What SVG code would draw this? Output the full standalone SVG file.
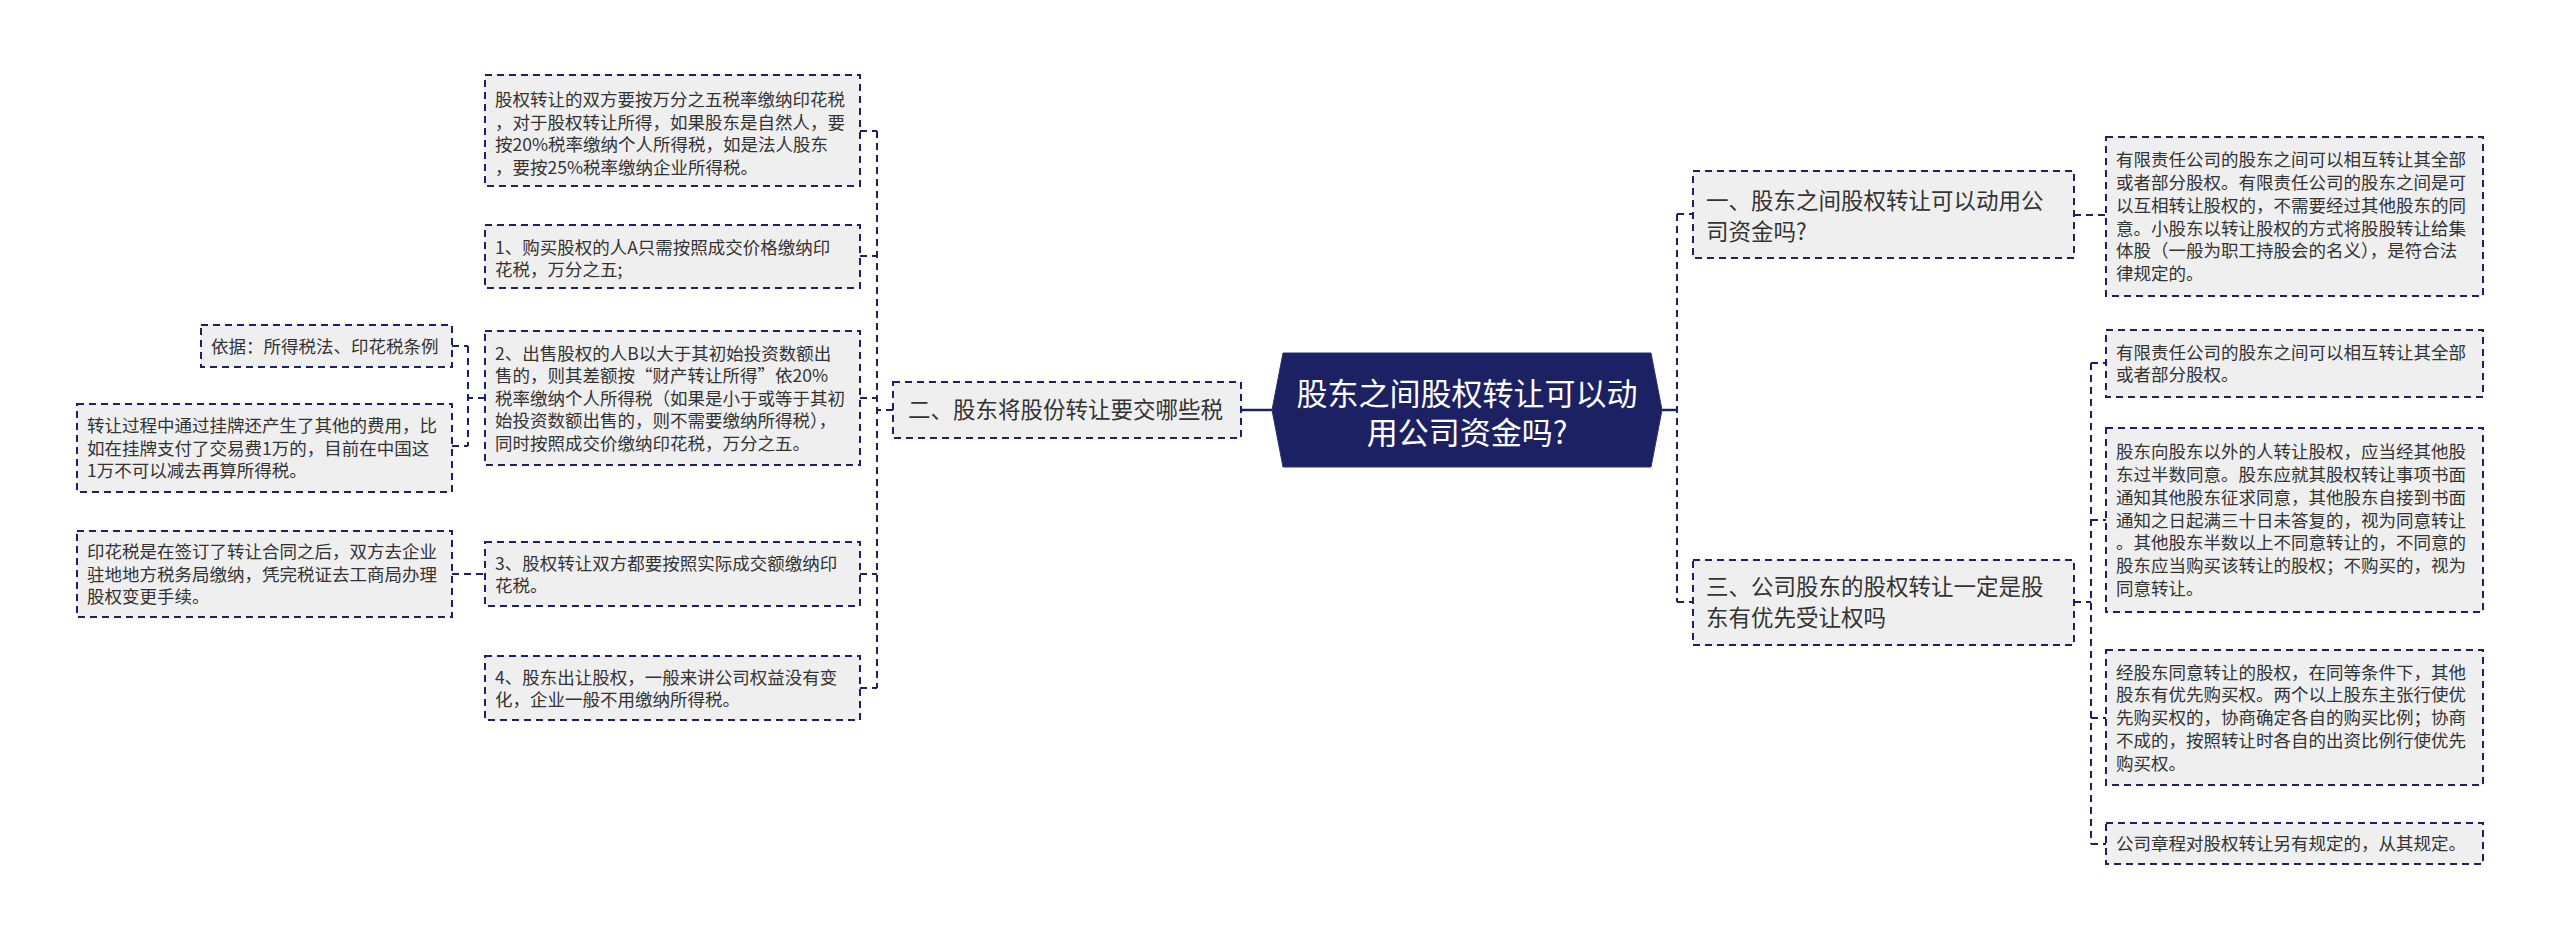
<svg xmlns="http://www.w3.org/2000/svg" width="2560" height="941" viewBox="0 0 2560 941">
<style>
.box{fill:#efefef;stroke:#1c2163;stroke-width:2;stroke-dasharray:7 5;}
.con{fill:none;stroke:#1c2163;stroke-width:2;stroke-dasharray:7 5;}
.solid{fill:none;stroke:#1c2163;stroke-width:2.5;}
.leaf{font-family:"Noto Sans CJK SC","Noto Sans",sans-serif;font-size:17.5px;fill:#333333;}
.br{font-family:"Noto Sans CJK SC","Noto Sans",sans-serif;font-size:22.5px;fill:#333333;}
.ctr{font-family:"Noto Sans CJK SC","Noto Sans",sans-serif;font-size:31px;fill:#ffffff;text-anchor:middle;}
</style>
<rect width="2560" height="941" fill="#ffffff"/>
<g id="connectors">
  <path class="solid" d="M1241,410 H1272"/>
  <path class="solid" d="M1662,410 H1677"/>
  <path class="con" d="M893,410 H877"/>
  <path class="con" d="M877,131 V688"/>
  <path class="con" d="M860,131 H877 M860,256 H877 M860,398 H877 M860,574 H877 M860,688 H877"/>
  <path class="con" d="M485,398 H468 M468,346 V446 M452,346 H468 M452,446 H468"/>
  <path class="con" d="M452,574 H485"/>
  <path class="con" d="M1677,214 V602 M1677,214 H1693 M1677,602 H1693"/>
  <path class="con" d="M2074,215 H2106"/>
  <path class="con" d="M2074,602 H2091 M2091,363 V844 M2091,363 H2106 M2091,520 H2106 M2091,718 H2106 M2091,844 H2106"/>
</g>
<g id="center">
  <polygon points="1272,410 1283,353 1651,353 1662,410 1651,467 1283,467" fill="#1c2163" stroke="#2a3173" stroke-width="1"/>
  <text class="ctr" x="1467" y="405">股东之间股权转让可以动</text>
  <text class="ctr" x="1467" y="444">用公司资金吗?</text>
</g>
<g id="b2">
  <rect class="box" x="893" y="382" width="348" height="56"/>
  <text class="br" x="908" y="418">二、股东将股份转让要交哪些税</text>
</g>
<g id="l1">
  <rect class="box" x="485" y="75" width="375" height="111"/>
  <text class="leaf" x="495" y="106">股权转让的双方要按万分之五税率缴纳印花税</text>
  <text class="leaf" x="495" y="128.5">，对于股权转让所得，如果股东是自然人，要</text>
  <text class="leaf" x="495" y="151">按20%税率缴纳个人所得税，如是法人股东</text>
  <text class="leaf" x="495" y="173.5">，要按25%税率缴纳企业所得税。</text>
</g>
<g id="l2">
  <rect class="box" x="485" y="225" width="375" height="63"/>
  <text class="leaf" x="495" y="253.5">1、购买股权的人A只需按照成交价格缴纳印</text>
  <text class="leaf" x="495" y="276">花税，万分之五;</text>
</g>
<g id="l3">
  <rect class="box" x="485" y="331" width="375" height="134"/>
  <text class="leaf" x="495" y="359.5">2、出售股权的人B以大于其初始投资数额出</text>
  <text class="leaf" x="495" y="382">售的，则其差额按“财产转让所得”依20%</text>
  <text class="leaf" x="495" y="404.5">税率缴纳个人所得税（如果是小于或等于其初</text>
  <text class="leaf" x="495" y="427">始投资数额出售的，则不需要缴纳所得税），</text>
  <text class="leaf" x="495" y="449.5">同时按照成交价缴纳印花税，万分之五。</text>
</g>
<g id="l4">
  <rect class="box" x="485" y="542" width="375" height="64"/>
  <text class="leaf" x="495" y="569.5">3、股权转让双方都要按照实际成交额缴纳印</text>
  <text class="leaf" x="495" y="592">花税。</text>
</g>
<g id="l5">
  <rect class="box" x="485" y="656" width="375" height="64"/>
  <text class="leaf" x="495" y="683.5">4、股东出让股权，一般来讲公司权益没有变</text>
  <text class="leaf" x="495" y="706">化，企业一般不用缴纳所得税。</text>
</g>
<g id="f1">
  <rect class="box" x="201" y="325" width="251" height="42"/>
  <text class="leaf" x="211" y="352.5">依据：所得税法、印花税条例</text>
</g>
<g id="f2">
  <rect class="box" x="77" y="404" width="375" height="88"/>
  <text class="leaf" x="87" y="432">转让过程中通过挂牌还产生了其他的费用，比</text>
  <text class="leaf" x="87" y="454.5">如在挂牌支付了交易费1万的，目前在中国这</text>
  <text class="leaf" x="87" y="477">1万不可以减去再算所得税。</text>
</g>
<g id="f3">
  <rect class="box" x="77" y="531" width="375" height="86"/>
  <text class="leaf" x="87" y="558">印花税是在签订了转让合同之后，双方去企业</text>
  <text class="leaf" x="87" y="580.5">驻地地方税务局缴纳，凭完税证去工商局办理</text>
  <text class="leaf" x="87" y="603">股权变更手续。</text>
</g>
<g id="b1">
  <rect class="box" x="1693" y="171" width="381" height="87"/>
  <text class="br" x="1706" y="209">一、股东之间股权转让可以动用公</text>
  <text class="br" x="1706" y="240">司资金吗?</text>
</g>
<g id="b3">
  <rect class="box" x="1693" y="560" width="381" height="85"/>
  <text class="br" x="1706" y="595">三、公司股东的股权转让一定是股</text>
  <text class="br" x="1706" y="626">东有优先受让权吗</text>
</g>
<g id="r1">
  <rect class="box" x="2106" y="137" width="377" height="159"/>
  <text class="leaf" x="2116" y="166">有限责任公司的股东之间可以相互转让其全部</text>
  <text class="leaf" x="2116" y="189">或者部分股权。有限责任公司的股东之间是可</text>
  <text class="leaf" x="2116" y="211.5">以互相转让股权的，不需要经过其他股东的同</text>
  <text class="leaf" x="2116" y="234.5">意。小股东以转让股权的方式将股股转让给集</text>
  <text class="leaf" x="2116" y="257">体股（一般为职工持股会的名义），是符合法</text>
  <text class="leaf" x="2116" y="280">律规定的。</text>
</g>
<g id="r2">
  <rect class="box" x="2106" y="330" width="377" height="67"/>
  <text class="leaf" x="2116" y="358.5">有限责任公司的股东之间可以相互转让其全部</text>
  <text class="leaf" x="2116" y="381">或者部分股权。</text>
</g>
<g id="r3">
  <rect class="box" x="2106" y="428" width="377" height="184"/>
  <text class="leaf" x="2116" y="458">股东向股东以外的人转让股权，应当经其他股</text>
  <text class="leaf" x="2116" y="481">东过半数同意。股东应就其股权转让事项书面</text>
  <text class="leaf" x="2116" y="503.5">通知其他股东征求同意，其他股东自接到书面</text>
  <text class="leaf" x="2116" y="526.5">通知之日起满三十日未答复的，视为同意转让</text>
  <text class="leaf" x="2116" y="549">。其他股东半数以上不同意转让的，不同意的</text>
  <text class="leaf" x="2116" y="572">股东应当购买该转让的股权；不购买的，视为</text>
  <text class="leaf" x="2116" y="595">同意转让。</text>
</g>
<g id="r4">
  <rect class="box" x="2106" y="650" width="377" height="135"/>
  <text class="leaf" x="2116" y="678.5">经股东同意转让的股权，在同等条件下，其他</text>
  <text class="leaf" x="2116" y="701">股东有优先购买权。两个以上股东主张行使优</text>
  <text class="leaf" x="2116" y="724">先购买权的，协商确定各自的购买比例；协商</text>
  <text class="leaf" x="2116" y="746.5">不成的，按照转让时各自的出资比例行使优先</text>
  <text class="leaf" x="2116" y="769.5">购买权。</text>
</g>
<g id="r5">
  <rect class="box" x="2106" y="823" width="377" height="41"/>
  <text class="leaf" x="2116" y="850">公司章程对股权转让另有规定的，从其规定。</text>
</g>
</svg>
